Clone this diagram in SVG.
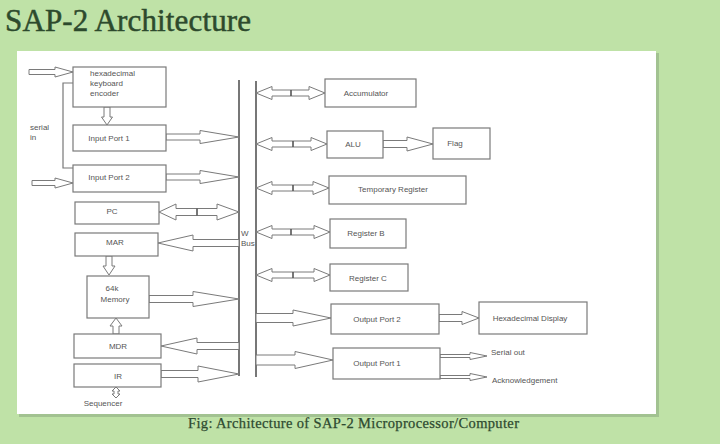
<svg xmlns="http://www.w3.org/2000/svg" width="720" height="444" viewBox="0 0 720 444">
<style>
.bx{fill:#fff;stroke:#7a7a7a;stroke-width:1.2}
.t{font-family:"Liberation Sans",Arial,sans-serif;font-size:8px;fill:#555}
.c{text-anchor:middle}
.arr{fill:#fff;stroke:#7a7a7a;stroke-width:1}
.bus{stroke:#555;stroke-width:1.6;fill:none}
.ln{stroke:#777;stroke-width:1.2;fill:none}
.tick{stroke:#555;stroke-width:1.6}
.serif{font-family:"Liberation Serif","Times New Roman",serif}
</style>
<rect x="0" y="0" width="720" height="444" fill="#bfe2a7"/>
<text class="serif" x="5" y="31" font-size="31" fill="#2d4a2d" stroke="#2d4a2d" stroke-width="0.5" textLength="246">SAP-2 Architecture</text>
<rect x="19" y="53" width="640" height="364" fill="#8fae82" opacity="0.6"/>
<rect x="17" y="51" width="639" height="363" fill="#ffffff"/>
<text class="serif" x="188" y="428" font-size="14.5" fill="#2e4a30" stroke="#2e4a30" stroke-width="0.25" textLength="331">Fig: Architecture of SAP-2 Microprocessor/Computer</text>

<g id="connectors">
<line class="bus" x1="239" y1="80" x2="239" y2="376"/>
<line class="bus" x1="256" y1="81" x2="256" y2="377"/>
<polyline class="ln" points="73,83 63,83 63,168 73,168"/>
<path class="arr" d="M29,69.5 L55,69.5 L55,67 L73,72 L55,77 L55,74.5 L29,74.5 Z"/>
<path class="arr" d="M32,180.5 L55,180.5 L55,178 L73,183 L55,188 L55,185.5 L32,185.5 Z"/>
<path class="arr" d="M104,107 L110,107 L110,117 L112.5,117 L107,125 L101.5,117 L104,117 Z"/>
<path class="arr" d="M166,134 L200,134 L200,130.5 L239,137 L200,143.5 L200,140 L166,140 Z"/>
<path class="arr" d="M166,174 L200,174 L200,170.5 L239,177 L200,183.5 L200,180 L166,180 Z"/>
<path class="arr" d="M159,212 L176,204 L176,208.5 L217,208.5 L217,204 L239,212 L217,220 L217,215.5 L176,215.5 L176,220 Z"/>
<line class="tick" x1="197" y1="208.5" x2="197" y2="215.5"/>
<path class="arr" d="M239,239.5 L193,239.5 L193,235 L158,243 L193,251 L193,246.5 L239,246.5 Z"/>
<path class="arr" d="M106,256 L112,256 L112,266 L115,266 L109,275 L103,266 L106,266 Z"/>
<path class="arr" d="M149,295.5 L193,295.5 L193,291.5 L239,299 L193,306.5 L193,302.5 L149,302.5 Z"/>
<path class="arr" d="M113,334 L119,334 L119,326 L122,326 L116,318 L110,326 L113,326 Z"/>
<path class="arr" d="M239,342.5 L197,342.5 L197,338 L161,346 L197,354 L197,349.5 L239,349.5 Z"/>
<path class="arr" d="M161,370.5 L198,370.5 L198,366 L239,374 L198,382 L198,377.5 L161,377.5 Z"/>
<path class="arr" d="M116,387 L120,391 L118,391 L118,394 L120,394 L116,398 L112,394 L114,394 L114,391 L112,391 Z"/>
<path class="arr" d="M256,93 L272,86.5 L272,90 L309,90 L309,86.5 L325,93 L309,99.5 L309,96 L272,96 L272,99.5 Z"/>
<line class="tick" x1="291" y1="90" x2="291" y2="96"/>
<path class="arr" d="M256,144 L272,137.5 L272,141 L311,141 L311,137.5 L327,144 L311,150.5 L311,147 L272,147 L272,150.5 Z"/>
<line class="tick" x1="293" y1="141" x2="293" y2="147"/>
<path class="arr" d="M383,140.5 L407,140.5 L407,137 L433,144 L407,151 L407,147.5 L383,147.5 Z"/>
<path class="arr" d="M256,188 L272,181.5 L272,185 L313,185 L313,181.5 L329,188 L313,194.5 L313,191 L272,191 L272,194.5 Z"/>
<line class="tick" x1="293" y1="185" x2="293" y2="191"/>
<path class="arr" d="M256,232 L272,225.5 L272,229 L314,229 L314,225.5 L330,232 L314,238.5 L314,235 L272,235 L272,238.5 Z"/>
<line class="tick" x1="291" y1="229" x2="291" y2="235"/>
<path class="arr" d="M256,275 L272,268.5 L272,272 L314,272 L314,268.5 L330,275 L314,281.5 L314,278 L272,278 L272,281.5 Z"/>
<line class="tick" x1="293" y1="272" x2="293" y2="278"/>
<path class="arr" d="M256,313.5 L293,313.5 L293,310 L331,318 L293,326 L293,322.5 L256,322.5 Z"/>
<path class="arr" d="M439,314.5 L462,314.5 L462,311.5 L479,318 L462,324.5 L462,321.5 L439,321.5 Z"/>
<path class="arr" d="M256,355 L295,355 L295,351.5 L333,360 L295,368.5 L295,365 L256,365 Z"/>
<path class="arr" d="M440,354.5 L470,354.5 L470,352.5 L487,356 L470,359.5 L470,357.5 L440,357.5 Z"/>
<path class="arr" d="M440,375.5 L470,375.5 L470,373.5 L487,377 L470,380.5 L470,378.5 L440,378.5 Z"/>
<text class="t" x="30" y="130">serial</text>
<text class="t" x="30" y="140">in</text>
<text class="t" x="241" y="236">W</text>
<text class="t" x="241" y="246" font-size="7">Bus</text>
<text class="t c" x="103" y="406">Sequencer</text>
<text class="t" x="491" y="355">Serial out</text>
<text class="t" x="492" y="383">Acknowledgement</text>
</g>

<g id="encoder"><rect class="bx" x="73" y="67" width="93" height="40"/>
<text class="t" x="90" y="76">hexadecimal</text><text class="t" x="90" y="86">keyboard</text><text class="t" x="90" y="96">encoder</text></g>
<g id="input-port-1"><rect class="bx" x="73" y="125" width="93" height="26"/><text class="t c" x="109" y="141">Input Port 1</text></g>
<g id="input-port-2"><rect class="bx" x="73" y="165" width="93" height="27"/><text class="t c" x="109" y="180">Input Port 2</text></g>
<g id="pc"><rect class="bx" x="75" y="202" width="84" height="22"/><text class="t c" x="112" y="214">PC</text></g>
<g id="mar"><rect class="bx" x="75" y="233" width="83" height="23"/><text class="t c" x="115" y="245">MAR</text></g>
<g id="memory"><rect class="bx" x="87" y="276" width="62" height="42"/><text class="t c" x="112" y="291">64k</text><text class="t c" x="115" y="302">Memory</text></g>
<g id="mdr"><rect class="bx" x="74" y="334" width="87" height="24"/><text class="t c" x="118" y="349">MDR</text></g>
<g id="ir"><rect class="bx" x="74" y="364" width="87" height="23"/><text class="t c" x="118" y="379">IR</text></g>
<g id="accumulator"><rect class="bx" x="325" y="79" width="91" height="28"/><text class="t c" x="366" y="96" font-size="8.8">Accumulator</text></g>
<g id="alu"><rect class="bx" x="327" y="131" width="56" height="27"/><text class="t c" x="353" y="147">ALU</text></g>
<g id="flag"><rect class="bx" x="433" y="128" width="57" height="31"/><text class="t c" x="455" y="146">Flag</text></g>
<g id="temp-register"><rect class="bx" x="329" y="176" width="137" height="28"/><text class="t c" x="393" y="192" font-size="9">Temporary Register</text></g>
<g id="register-b"><rect class="bx" x="330" y="219" width="76" height="29"/><text class="t c" x="366" y="236" font-size="9">Register B</text></g>
<g id="register-c"><rect class="bx" x="330" y="264" width="78" height="27"/><text class="t c" x="368" y="281" font-size="9">Register C</text></g>
<g id="output-port-2"><rect class="bx" x="331" y="304" width="108" height="30"/><text class="t c" x="377" y="322" font-size="7.5">Output Port 2</text></g>
<g id="hex-display"><rect class="bx" x="479" y="302" width="108" height="32"/><text class="t c" x="530" y="321" font-size="9">Hexadecimal Display</text></g>
<g id="output-port-1"><rect class="bx" x="333" y="348" width="107" height="31"/><text class="t c" x="377" y="366" font-size="7.5">Output Port 1</text></g>
</svg>
